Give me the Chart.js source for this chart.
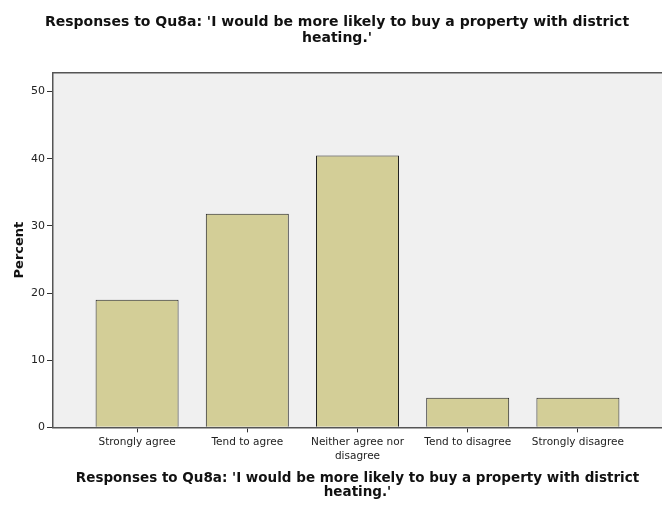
<!DOCTYPE html>
<html>
<head>
<meta charset="utf-8">
<script src="https://cdn.jsdelivr.net/npm/chart.js@4/dist/chart.umd.min.js"></script>
<style>
  html, body { margin: 0; padding: 0; background: #fff; }
  #wrap { width: 662px; height: 507px; }
</style>
</head>
<body>
<div id="wrap"><canvas id="chart"></canvas></div>
<script>
// data
const categories = [
    ['Strongly agree'],
    ['Tend to agree'],
    ['Neither agree nor', 'disagree'],
    ['Tend to disagree'],
    ['Strongly disagree']
];
const percents = [19.0, 31.8, 40.5, 4.4, 4.4];
const yTicks = [0, 10, 20, 30, 40, 50];
const yMax = 52.8;

const titleText = ["Responses to Qu8a: 'I would be more likely to buy a property with district", "heating.'"];

// grey plot background plus the top frame line
const plotFrame = {
    id: 'plotFrame',
    beforeDraw(chart) {
        const { ctx, chartArea: a } = chart;
        ctx.save();
        ctx.fillStyle = '#f0f0f0';
        ctx.fillRect(a.left, a.top, a.right - a.left, a.bottom - a.top);
        ctx.strokeStyle = '#555';
        ctx.lineWidth = 1.5;
        ctx.beginPath();
        ctx.moveTo(a.left, a.top);
        ctx.lineTo(a.right, a.top);
        ctx.stroke();
        ctx.restore();
    }
};

const ctx = document.getElementById('chart').getContext('2d');
new Chart(ctx, {
    type: 'bar',
    data: {
        datasets: [{
            data: percents.map((v, i) => ({ x: i, y: v })),
            backgroundColor: '#d3ce97',
            borderColor: '#222',
            borderWidth: 1,
            borderSkipped: 'bottom',
            categoryPercentage: 1,
            barPercentage: 0.753
        }]
    },
    options: {
        responsive: true,
        maintainAspectRatio: false,
        animation: false,
        layout: { padding: { left: 12, right: 0, top: 15, bottom: 7 } },
        plugins: {
            legend: { display: false },
            tooltip: { enabled: false },
            title: {
                display: true,
                text: titleText,
                color: '#111',
                font: { family: 'DejaVu Sans', size: 14, weight: 'bold', lineHeight: 1.1 },
                padding: { top: 0, bottom: 27 }
            }
        },
        scales: {
            x: {
                type: 'linear',
                offset: false,
                min: -0.763,
                max: categories.length - 1 + 0.763,
                afterBuildTicks: s => { s.ticks = categories.map((c, i) => ({ value: i })); },
                ticks: {
                    autoSkip: false,
                    maxRotation: 0,
                    color: '#222',
                    padding: 3,
                    font: { family: 'DejaVu Sans', size: 10.5, lineHeight: 1.3 },
                    callback: v => categories[v]
                },
                grid: { offset: false, drawOnChartArea: false, drawTicks: true, tickLength: 5, color: '#333' },
                border: { display: true, color: '#555', width: 1.5 },
                title: {
                    display: true,
                    text: titleText,
                    color: '#111',
                    font: { family: 'DejaVu Sans', size: 13.5, weight: 'bold', lineHeight: 1.05 },
                    padding: { top: 6, bottom: 0 }
                }
            },
            y: {
                min: 0,
                max: yMax,
                afterBuildTicks: s => { s.ticks = yTicks.map(v => ({ value: v })); },
                afterFit: s => { s.width = 41; },
                ticks: {
                    color: '#222',
                    padding: 2,
                    font: { family: 'DejaVu Sans', size: 11 }
                },
                grid: { drawOnChartArea: false, drawTicks: true, tickLength: 6, color: '#333' },
                border: { display: true, color: '#555', width: 1.5 },
                title: {
                    display: true,
                    text: 'Percent',
                    color: '#111',
                    font: { family: 'DejaVu Sans', size: 13, weight: 'bold' },
                    padding: { top: 0, bottom: 4 }
                }
            }
        }
    },
    plugins: [plotFrame]
});
</script>
</body>
</html>
